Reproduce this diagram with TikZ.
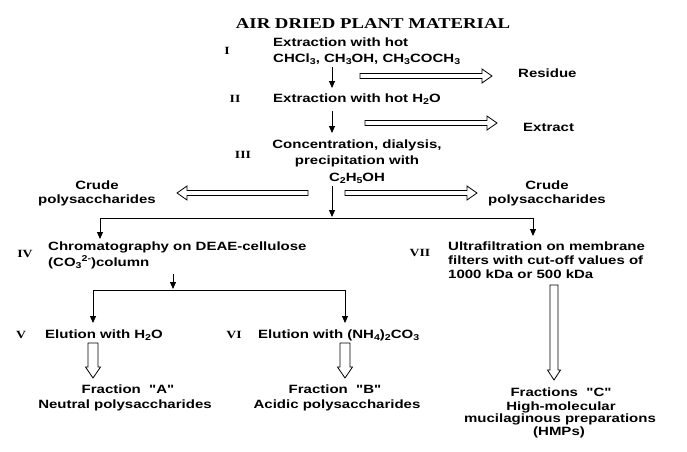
\documentclass[tikz,border=0pt]{standalone}
\usepackage{fontspec}
\setmainfont{Liberation Sans}[FakeStretch=1.25, Ligatures=TeXOff]
\newfontfamily\serifx{Liberation Serif}[FakeStretch=1.25]
\usetikzlibrary{arrows.meta}
\newcommand\chsub[1]{\raisebox{-0.4ex}{\fontsize{8.5}{8.5}\selectfont #1}}
\newcommand\chsup[1]{\raisebox{0.75ex}{\fontsize{8.5}{8.5}\selectfont #1}}
\newcommand\hollowarrow[6]{%
  \draw[hollow, shift={(#1)}, rotate=#2] (0,-#4) -- ({#3-#6},-#4) -- ({#3-#6},-#5) -- (#3,0)
     -- ({#3-#6},#5) -- ({#3-#6},#4) -- (0,#4) -- cycle;}
\tikzset{
  txt/.style={font=\fontsize{12}{14}\selectfont\bfseries, inner sep=0pt},
  rom/.style={font=\serifx\fontsize{11}{13}\selectfont\bfseries, inner sep=0pt, anchor=base},
  ttl/.style={font=\serifx\fontsize{15}{18}\selectfont\bfseries, inner sep=0pt, anchor=base},
  thin/.style={line width=0.9pt, -{Triangle[length=7pt,width=6pt]}},
  plain/.style={line width=0.9pt},
  hollow/.style={line width=0.8pt, draw=black, fill=white}
}
\begin{document}
\begin{tikzpicture}[x=1pt,y=-1pt]
\useasboundingbox[fill=white] (0,0) rectangle (687,451);

% title
\node[ttl] (title) at (373,28) {AIR DRIED PLANT MATERIAL};

% roman numerals
\node[rom] (rI) at (227,54) {I};
\node[rom] (rII) at (235,102) {II};
\node[rom] (rIII) at (243,158) {III};
\node[rom] (rIV) at (25,257) {IV};
\node[rom] (rV) at (21,338) {V};
\node[rom] (rVI) at (234,338) {VI};
\node[rom] (rVII) at (420,256) {VII};

% step I
\node[txt, anchor=base west] (e1a) at (273,46) {Extraction with hot};
\node[txt, anchor=base west] (e1b) at (273,62) {CHCl\chsub{3}, CH\chsub{3}OH, CH\chsub{3}COCH\chsub{3}};
\node[txt, anchor=base west] (res) at (518,77) {Residue};
% step II
\node[txt, anchor=base west] (e2) at (273,102) {Extraction with hot H\chsub{2}O};
\node[txt, anchor=base west] (ext) at (523,131) {Extract};
% step III
\node[txt, anchor=base] (c1) at (357,148) {Concentration, dialysis,};
\node[txt, anchor=base] (c2) at (357,164) {precipitation with};
\node[txt, anchor=base] (c3) at (357,181) {C\chsub{2}H\chsub{5}OH};
\node[txt, anchor=base] (cpl1) at (97,189) {Crude};
\node[txt, anchor=base] (cpl2) at (97,203) {polysaccharides};
\node[txt, anchor=base] (cpr1) at (547,189) {Crude};
\node[txt, anchor=base] (cpr2) at (547,203) {polysaccharides};
% step IV
\node[txt, anchor=base west] (ch1) at (48,250) {Chromatography on DEAE-cellulose};
\node[txt, anchor=base west] (ch2) at (48,266) {(CO\chsub{3}\chsup{2-})column};
% step V, VI
\node[txt, anchor=base west] (el1) at (45,338) {Elution with H\chsub{2}O};
\node[txt, anchor=base west] (el2) at (258,338) {Elution with (NH\chsub{4})\chsub{2}CO\chsub{3}};
\node[txt, anchor=base] (fa1) at (128,393) {Fraction~~"A"};
\node[txt, anchor=base] (fa2) at (125,408) {Neutral polysaccharides};
\node[txt, anchor=base] (fb1) at (335,393) {Fraction~~"B"};
\node[txt, anchor=base] (fb2) at (337,408) {Acidic polysaccharides};
% step VII
\node[txt, anchor=base west] (u1) at (448,250) {Ultrafiltration on membrane};
\node[txt, anchor=base west] (u2) at (448,264) {filters with cut-off values of};
\node[txt, anchor=base west] (u3) at (448,278) {1000 kDa or 500 kDa};
\node[txt, anchor=base] (fc1) at (561,396) {Fractions~~"C"};
\node[txt, anchor=base] (fc2) at (561,410) {High-molecular};
\node[txt, anchor=base] (fc3) at (560,422) {mucilaginous preparations};
\node[txt, anchor=base] (fc4) at (559,435) {(HMPs)};

% connector coordinates
\coordinate (a1s) at (332,67);  \coordinate (a1e) at (332,88);
\coordinate (a2s) at (332,111); \coordinate (a2e) at (332,133);
\coordinate (a3s) at (332,186); \coordinate (a3e) at (332,217);
\coordinate (h1l) at (100,218); \coordinate (h1r) at (533,218);
\coordinate (h1le) at (100,239); \coordinate (h1re) at (533,236);
\coordinate (a4s) at (173,274); \coordinate (a4e) at (173,289);
\coordinate (h2l) at (93,290);  \coordinate (h2r) at (345,290);
\coordinate (h2le) at (93,323); \coordinate (h2re) at (345,323);

\draw[thin] (a1s) -- (a1e);
\draw[thin] (a2s) -- (a2e);
\draw[thin] (a3s) -- (a3e);
\draw[plain] (h1l) -- (h1r);
\draw[thin] (h1l) -- (h1le);
\draw[thin] (h1r) -- (h1re);
\draw[thin] (a4s) -- (a4e);
\draw[plain] (h2l) -- (h2r);
\draw[thin] (h2l) -- (h2le);
\draw[thin] (h2r) -- (h2re);

% hollow arrows
\coordinate (hr1) at (360,76);
\coordinate (hr2) at (365,123);
\coordinate (hl3) at (308,193);
\coordinate (hr3) at (345,193);
\coordinate (hda) at (93,343);
\coordinate (hdb) at (345,343);
\coordinate (hdc) at (554,285);
\hollowarrow{hr1}{0}{132}{2.5}{7}{10}
\hollowarrow{hr2}{0}{132}{2.5}{7}{10}
\hollowarrow{hl3}{180}{131}{2.5}{7}{10}
\hollowarrow{hr3}{0}{132}{2.5}{7}{10}
\hollowarrow{hda}{-90}{35}{5}{7.5}{11}
\hollowarrow{hdb}{-90}{35}{5}{7.5}{11}
\hollowarrow{hdc}{-90}{95}{4}{6.5}{10}
\end{tikzpicture}
\end{document}
